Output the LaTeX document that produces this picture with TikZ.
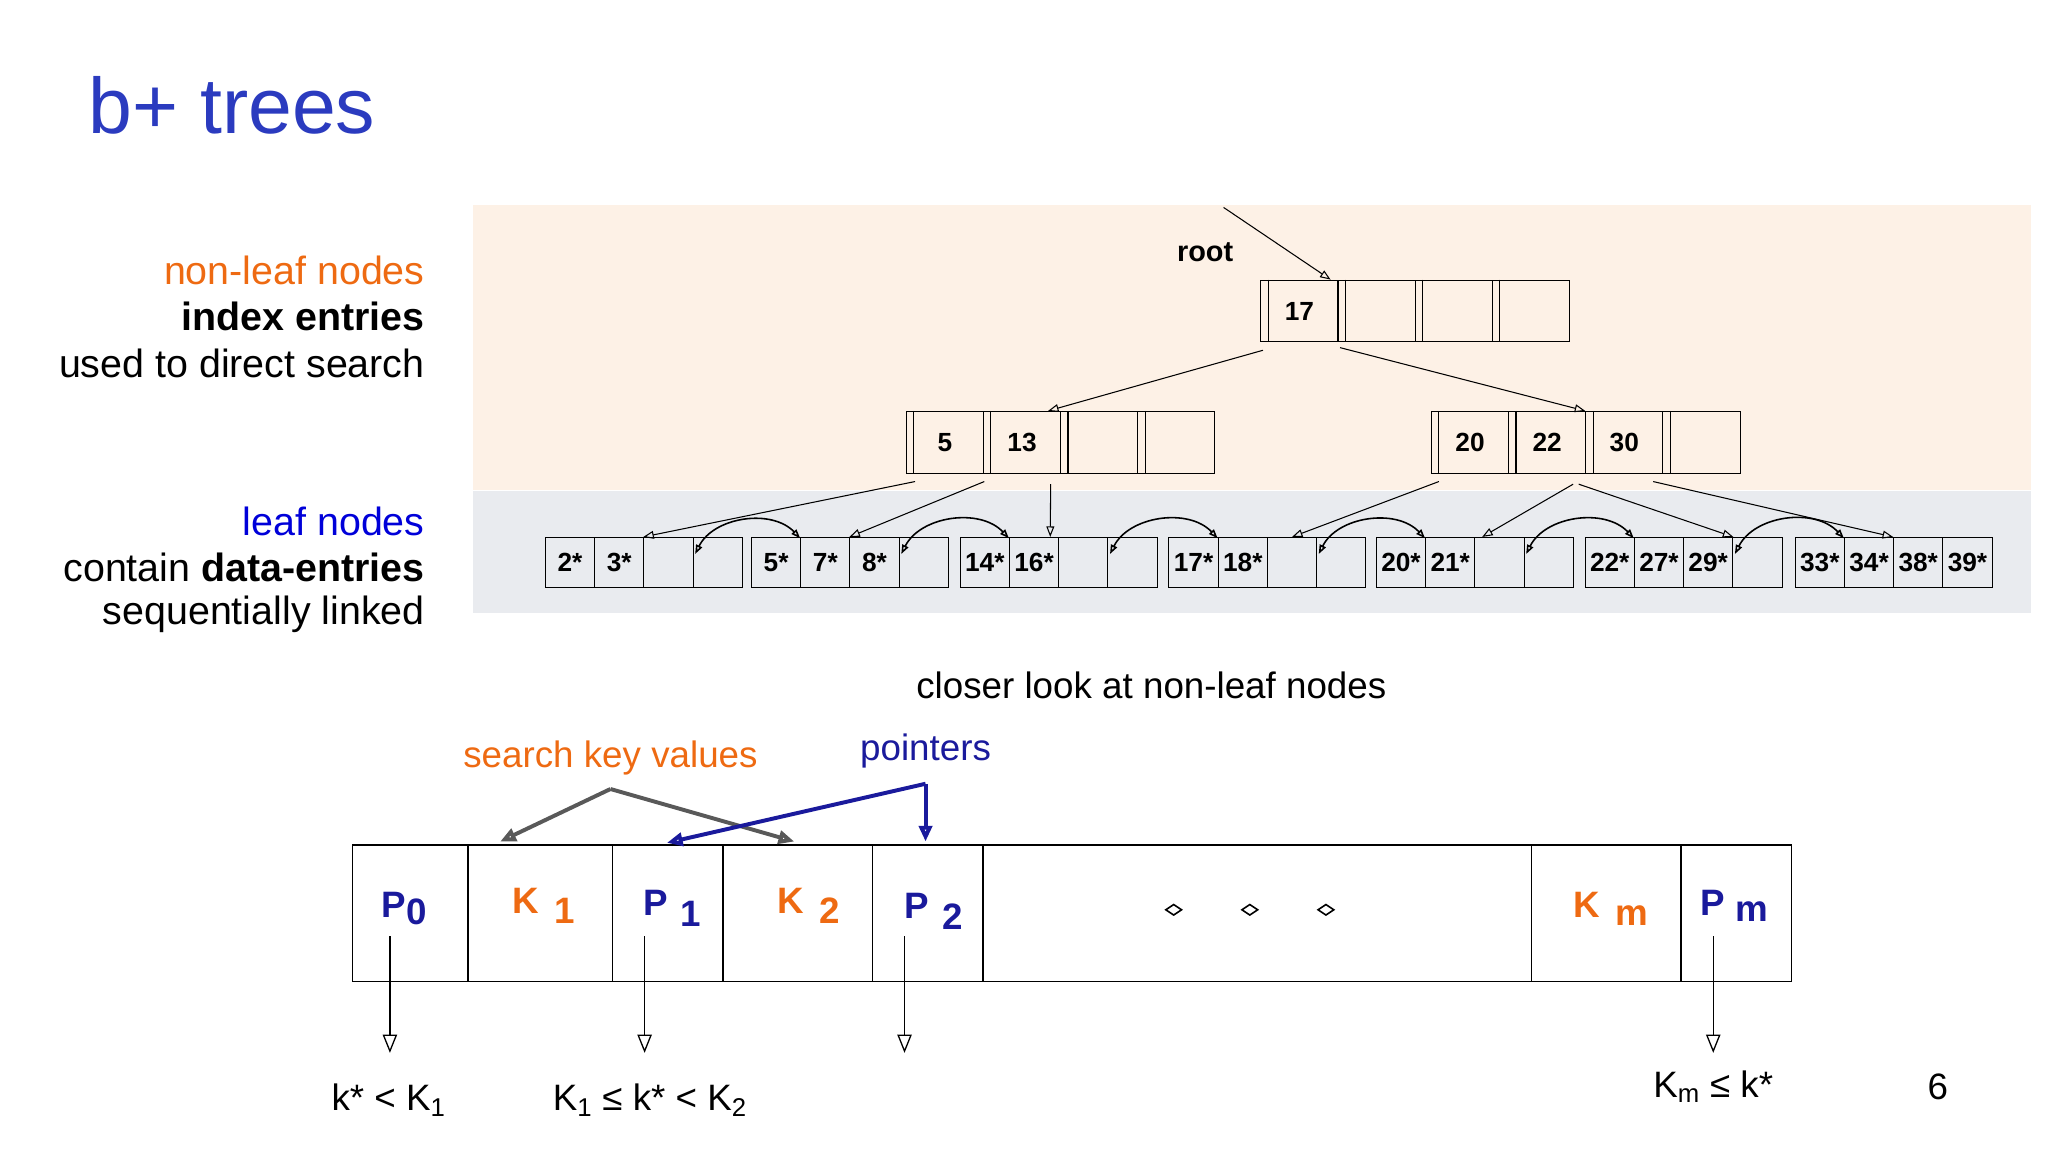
\documentclass[tikz,border=0pt]{standalone}
\usepackage{fontspec}
\setmainfont{Liberation Sans}
\usetikzlibrary{arrows.meta}
\definecolor{ttl}{HTML}{2B3BBF}
\definecolor{org}{HTML}{EE6A12}
\definecolor{dblue}{HTML}{1A1A9C}
\definecolor{bgo}{HTML}{FDF1E6}
\definecolor{bgg}{HTML}{E9EBEF}
\begin{document}
\begin{tikzpicture}[x=1pt,y=-1pt,
  cell/.style={draw,line width=0.8pt,minimum width=#1,minimum height=47pt,inner sep=0pt,font=\bfseries\fontsize{20}{20}\selectfont,anchor=north west},
  lcell/.style={draw,line width=0.8pt,minimum width=37.5pt,minimum height=38pt,inner sep=0pt,font=\bfseries\fontsize{20}{20}\selectfont,anchor=north west},
  tarr/.style={-{Triangle[open,length=8pt,width=6pt]},line width=0.8pt},
  sarr/.style={{Triangle[open,length=7pt,width=5pt]}-{Triangle[open,length=7pt,width=5pt]},line width=1.2pt},
  big/.style={draw,line width=1.2pt,minimum height=104pt,inner sep=0pt,anchor=north west},
  lab/.style={font=\fontsize{30}{32}\selectfont,anchor=east,align=right}]
\useasboundingbox (0,0) rectangle (1560,877.5);
\fill[bgo] (360,156) rectangle (1547,373);
\fill[bgg] (360,374) rectangle (1547,467);
\node[text=ttl,font=\fontsize{60}{60}\selectfont,anchor=west] (title) at (64,80) {b+ trees};
\node[lab,text=org] (nl1) at (327,206) {non-leaf nodes};
\node[lab] (nl2) at (327,241) {\bfseries index entries};
\node[lab] (nl3) at (327,277) {used to direct search};
\node[lab,text=blue!85!black] (l1) at (327,397) {leaf nodes};
\node[lab] (l2) at (327,432) {contain \textbf{data-entries}};
\node[lab] (l3) at (327,468) {sequentially linked};
% root
\node[font=\bfseries\fontsize{22}{22}\selectfont] (rootlbl) at (918,192) {root};
\coordinate (rs) at (932,158);
\foreach \i/\t in {0/17,1/,2/,3/}{\node[cell=58.75pt] (r\i) at (960+\i*58.75,213) {\t};}
\foreach \i in {0,1,2,3}{\draw[line width=0.8pt] (966+\i*58.75,213)--(966+\i*58.75,260);}
\draw[tarr] (rs)--([xshift=-6pt]r0.north east);
% index nodes
\foreach \i/\t in {0/5,1/13,2/,3/}{\node[cell=58.75pt] (a\i) at (690+\i*58.75,313) {\t};}
\foreach \i in {0,1,2,3}{\draw[line width=0.8pt] (696+\i*58.75,313)--(696+\i*58.75,360);}
\foreach \i/\t in {0/20,1/22,2/30,3/}{\node[cell=58.75pt] (b\i) at (1090+\i*58.75,313) {\t};}
\foreach \i in {0,1,2,3}{\draw[line width=0.8pt] (1096+\i*58.75,313)--(1096+\i*58.75,360);}
% leaves
\foreach \n/\x/\a/\b/\c/\d in {p/415/2*/3*//,q/572/5*/7*/8*/,s/731/14*/16*//,t/890/17*/18*//,u/1048/20*/21*//,v/1207/22*/27*/29*/,w/1367/33*/34*/38*/39*}{
  \node[lcell] (\n1) at (\x,409) {\a};
  \node[lcell] (\n2) at (\x+37.5,409) {\b};
  \node[lcell] (\n3) at (\x+75,409) {\c};
  \node[lcell] (\n4) at (\x+112.5,409) {\d};
}
% tree arrows
\draw[tarr] ([xshift=2pt,yshift=-6pt]r0.south west)--([xshift=-10pt]a1.north east);
\draw[tarr] ([xshift=2pt,yshift=-4pt]r1.south west)--(b2.north west);
\draw[tarr] ([xshift=7pt,yshift=-6pt]a0.south west)--(p3.north west);
\draw[tarr] ([xshift=1pt,yshift=-6pt]a1.south west)--(q3.north west);
\draw[tarr] ([xshift=-8pt,yshift=-8pt]a1.south east)--([xshift=-6pt]s3.north west);
\draw[tarr] ([xshift=6pt,yshift=-6pt]b0.south west)--(t3.north);
\draw[tarr] ([xshift=-10pt,yshift=-8pt]b1.south east)--([xshift=6pt]u3.north west);
\draw[tarr] ([xshift=-5pt,yshift=-8pt]b2.south west)--(v3.north east);
\draw[tarr] ([xshift=-7pt,yshift=-6pt]b3.south west)--(w3.north west);
% sibling links
\foreach \n/\m in {p/q,q/s,s/t,t/u,u/v,v/w}{
  \draw[sarr] ([xshift=2pt,yshift=-13pt]\n4.north west) to[bend left=55] ([yshift=-1pt]\m2.north west);
}
% closer look
\node[font=\fontsize{28}{30}\selectfont] (cl) at (877,522) {closer look at non-leaf nodes};
\node[font=\fontsize{28}{30}\selectfont,text=org] (skv) at (465,577) {search key values};
\node[font=\fontsize{28}{30}\selectfont,text=dblue] (ptr) at (705,572) {pointers};
\def\tb#1#2{\textcolor{#1}{\bfseries\fontsize{28}{28}\selectfont #2}}
\node[big,minimum width=88pt] (c0) at (268,643) {};
\node[big,minimum width=110pt] (c1) at (356,643) {};
\node[big,minimum width=84pt] (c2) at (466,643) {};
\node[big,minimum width=114pt] (c3) at (550,643) {};
\node[big,minimum width=84pt] (c4) at (664,643) {};
\node[big,minimum width=418pt] (c5) at (748,643) {};
\node[big,minimum width=114pt] (c6) at (1166,643) {};
\node[big,minimum width=84pt] (c7) at (1280,643) {};
\node (t0) at (308,692) {\tb{dblue}{P}\raisebox{-6pt}{\tb{dblue}{0}}};
\node (t1) at (414,690) {\tb{org}{K}\hspace{12pt}\raisebox{-8pt}{\tb{org}{1}}};
\node (t2) at (512,692) {\tb{dblue}{P}\hspace{10pt}\raisebox{-8pt}{\tb{dblue}{1}}};
\node (t3) at (616,690) {\tb{org}{K}\hspace{12pt}\raisebox{-8pt}{\tb{org}{2}}};
\node (t4) at (711,694) {\tb{dblue}{P}\hspace{10pt}\raisebox{-8pt}{\tb{dblue}{2}}};
\node (t6) at (1227,692) {\tb{org}{K}\hspace{12pt}\raisebox{-6pt}{\tb{org}{m}}};
\node (t7) at (1321,690) {\tb{dblue}{P}\hspace{8pt}\raisebox{-4pt}{\tb{dblue}{m}}};
\foreach \x/\n in {894/d1,952/d2,1010/d3}{\draw[line width=1.2pt] (\x-6,693)--(\x,689)--(\x+6,693)--(\x,697)--cycle; \coordinate (\n) at (\x,693);}
% down arrows
\foreach \x/\n in {297/e0,491/e1,689/e2,1305/e3}{
  \coordinate (\n s) at (\x,713); \coordinate (\n e) at (\x,802);
  \draw[-{Triangle[open,length=14pt,width=11pt]},line width=1pt] (\n s)--(\n e);}
\node[font=\fontsize{28}{30}\selectfont] (g0) at (296,838) {k* < K\textsubscript{1}};
\node[font=\fontsize{28}{30}\selectfont] (g1) at (495,838) {K\textsubscript{1} ≤ k* < K\textsubscript{2}};
\node[font=\fontsize{28}{30}\selectfont] (g3) at (1305,828) {K\textsubscript{m} ≤ k*};
\node[font=\fontsize{28}{30}\selectfont] (pg) at (1476,828) {6};
% pointer arrows
\coordinate (gs) at (465,601);
\draw[-{Triangle[length=12pt,width=10pt,open]},gray!70!black,line width=3pt] (gs)--(381,641);
\draw[-{Triangle[length=12pt,width=10pt,open]},gray!70!black,line width=3pt] (gs)--(605,641);
\coordinate (bs) at (705,597);
\draw[-{Triangle[length=12pt,width=10pt,open]},dblue,line width=3pt] (bs)--(508,642);
\draw[-{Triangle[length=12pt,width=10pt,open]},dblue,line width=3pt] (bs)--(705,641);
\end{tikzpicture}
\end{document}
